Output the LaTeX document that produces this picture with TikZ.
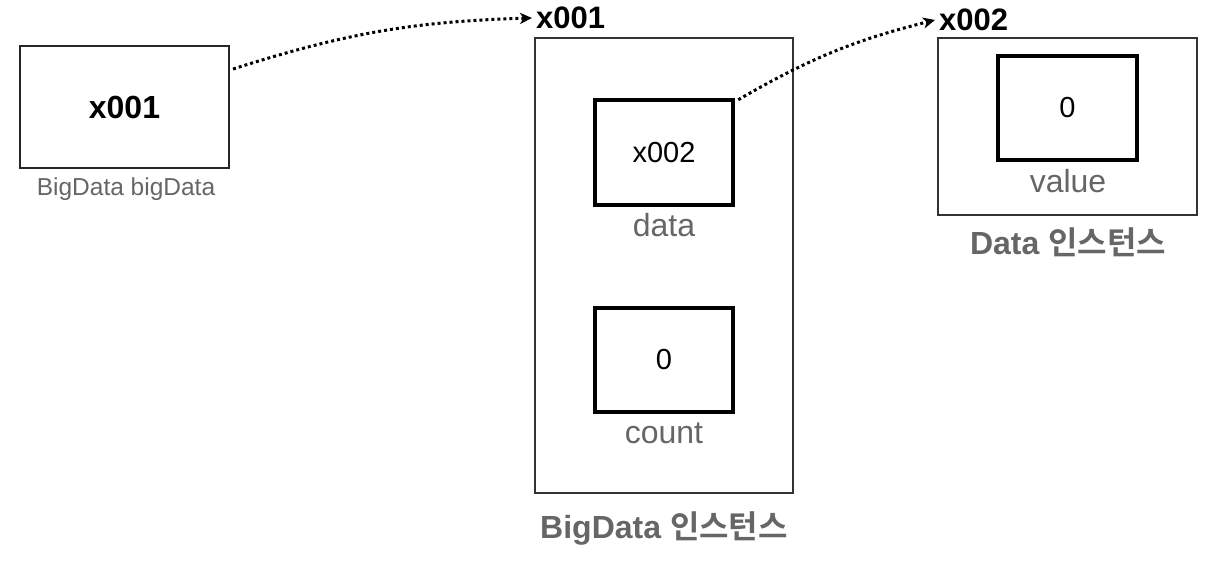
\documentclass[tikz,border=0pt]{standalone}
\usepackage{fontspec}
\setmainfont{Liberation Sans}
\newfontfamily\kr{Noto Sans CJK KR}[BoldFont={Noto Sans CJK KR Bold}]
\usetikzlibrary{arrows.meta}
\definecolor{txtgray}{HTML}{666666}
\definecolor{linegray}{HTML}{333333}
\tikzset{
  fs/.style={font=\fontsize{#1}{#1}\selectfont},
  valbox/.style={draw=black, line width=4.5pt, inner sep=0pt},
  outerbox/.style={draw=linegray, line width=1.2pt, inner sep=0pt},
  refbox/.style={draw=black!85, line width=2pt, inner sep=0pt},
  fieldlbl/.style={text=txtgray, inner sep=0pt, fs=32},
  instlbl/.style={text=txtgray, inner sep=0pt, font=\fontsize{32}{32}\selectfont\bfseries},
  addr/.style={inner sep=0pt, anchor=west, font=\fontsize{31}{31}\selectfont\bfseries},
  ptr/.style={line width=3pt, dash pattern=on 3pt off 3pt, -{Stealth[length=12pt,width=11pt,inset=3.5pt]}},
}
\begin{document}
\begin{tikzpicture}[x=1pt,y=-1pt]
\useasboundingbox (0,0) rectangle (1222,576);
% left reference variable
\node[refbox, minimum width=209pt, minimum height=122pt, font=\fontsize{32}{32}\selectfont\bfseries] (lb) at (124.5,107) {x001};
\node[text=txtgray, inner sep=0pt, fs=24.5] (lbl) at (126,189) {BigData bigData};
% BigData instance
\node[outerbox, minimum width=258pt, minimum height=455pt] (bigbox) at (664,265.5) {};
\node[addr] (a1) at (536,18) {x001};
\node[valbox, minimum width=138pt, minimum height=105pt, fs=29] (datab) at (664,152.5) {x002};
\node[fieldlbl] (datal) at (664,225) {data};
\node[valbox, minimum width=138pt, minimum height=104pt, fs=29] (countb) at (664,360) {0};
\node[fieldlbl] (countl) at (664,433) {count};
\node[instlbl] (bigl) at (664,528) {BigData {\kr\bfseries 인스턴스}};
% Data instance
\node[outerbox, minimum width=259pt, minimum height=177pt] (databox) at (1067.5,126.5) {};
\node[addr] (a2) at (939,20) {x002};
\node[valbox, minimum width=139pt, minimum height=104pt, fs=29] (valb) at (1067.5,108) {0};
\node[fieldlbl] (vall) at (1068,181) {value};
\node[instlbl] (datal2) at (1068,242) {Data {\kr\bfseries 인스턴스}};
% pointers
\coordinate (s1) at ([xshift=3pt,yshift=-24pt]lb.north east);
\coordinate (s2) at ([xshift=3pt,yshift=-2pt]datab.north east);
\draw[ptr] (s1) to[bend left=8] ([xshift=-4pt]a1.west);
\draw[ptr] (s2) to[bend left=8] ([xshift=-4pt]a2.west);
\end{tikzpicture}
\end{document}
